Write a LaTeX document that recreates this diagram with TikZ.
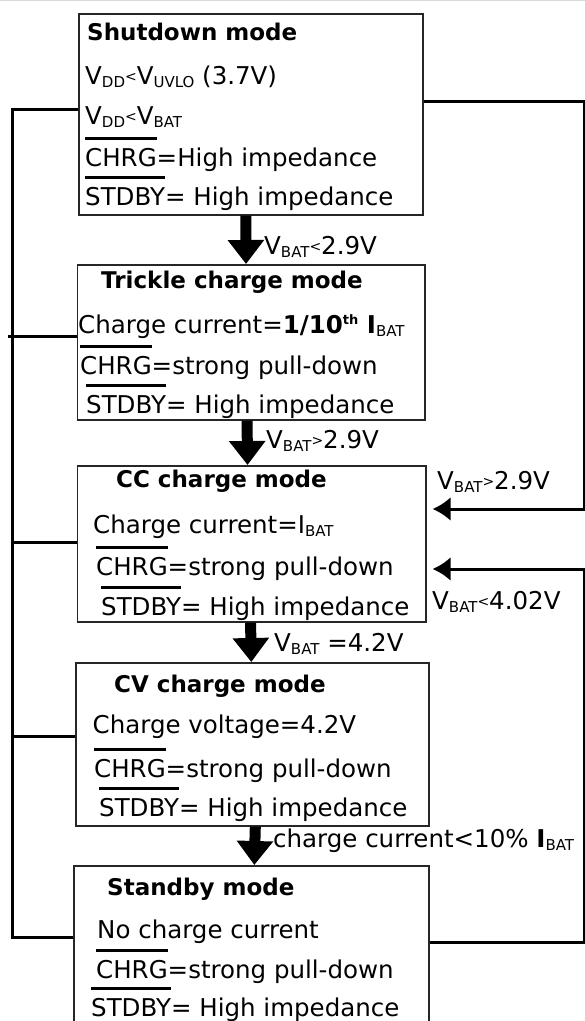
\documentclass[tikz,border=0pt]{standalone}
\usepackage{fontspec}
\setmainfont{DejaVu Sans}
\usetikzlibrary{arrows.meta}
\newcommand\vsub[1]{\raisebox{-3pt}{\fontsize{15}{15}\selectfont #1}}
\newcommand\slt{\raisebox{3pt}{\fontsize{14}{14}\selectfont <}}
\newcommand\sgt{\raisebox{3pt}{\fontsize{14}{14}\selectfont >}}
\newcommand\ovbar[1]{\setbox0\hbox{#1}\rlap{\raisebox{26.5pt}{\rule{\wd0}{2.4pt}}}\box0}
\tikzset{
  box/.style={draw=black!85, line width=1.6pt, rectangle, anchor=north west, inner sep=0pt},
  txt/.style={anchor=base west, inner sep=0pt, font=\fontsize{24.5}{28}\selectfont},
  ttl/.style={anchor=base west, inner sep=0pt, font=\fontsize{23}{27}\selectfont\bfseries},
  conn/.style={line width=3pt, black},
  sidearrow/.style={conn, -{Latex[length=18pt,width=24pt]}},
  bigarrow/.style={line width=11pt, black, -{Triangle[length=24pt,width=35pt]}}
}
\begin{document}
\begin{tikzpicture}[x=1pt,y=-1pt]
\useasboundingbox (0,0) rectangle (585,1021);
\draw[black!15, line width=1pt] (0,0.5) -- (585,0.5);
% boxes
\node[box, minimum width=344pt, minimum height=201pt] (shut) at (78,13) {};
\node[box, minimum width=347.5pt, minimum height=155pt] (trickle) at (76.5,264) {};
\node[box, minimum width=348.5pt, minimum height=156pt] (cc) at (76.5,465) {};
\node[box, minimum width=353pt, minimum height=163pt] (cv) at (75,662) {};
\node[box, minimum width=355pt, minimum height=210pt] (stby) at (73,865) {};
% shutdown texts
\node[ttl] (s0) at (87,40) {Shutdown mode};
\node[txt] (s1) at (85,84) {V\vsub{DD}\slt V\vsub{UVLO} (3.7V)};
\node[txt] (s2) at (85,124) {V\vsub{DD}\slt V\vsub{BAT}};
\node[txt] (s3) at (85,166) {\ovbar{CHRG}=High impedance};
\node[txt] (s4) at (85,205) {\ovbar{STDBY}= High impedance};
% trickle texts
\node[ttl] (t0) at (101,288) {Trickle charge mode};
\node[txt] (t1) at (78,333) {Charge current=\textbf{1/10\raisebox{9pt}{\fontsize{13}{13}\selectfont th} I}\vsub{BAT}};
\node[txt] (t2) at (80,374) {\ovbar{CHRG}=strong pull-down};
\node[txt] (t3) at (86,413) {\ovbar{STDBY}= High impedance};
% cc texts
\node[ttl] (c0) at (116,487) {CC charge mode};
\node[txt] (c1) at (93,533) {Charge current=I\vsub{BAT}};
\node[txt] (c2) at (96,575) {\ovbar{CHRG}=strong pull-down};
\node[txt] (c3) at (101,615) {\ovbar{STDBY}= High impedance};
% cv texts
\node[ttl] (v0) at (114,692) {CV charge mode};
\node[txt] (v1) at (92.5,733) {Charge voltage=4.2V};
\node[txt] (v2) at (94,777) {\ovbar{CHRG}=strong pull-down};
\node[txt] (v3) at (99,816) {\ovbar{STDBY}= High impedance};
% standby texts
\node[ttl] (b0) at (107,895) {Standby mode};
\node[txt] (b1) at (97,938) {No charge current};
\node[txt] (b2) at (96,978) {\ovbar{CHRG}=strong pull-down};
\node[txt] (b3) at (91,1016) {\ovbar{STDBY}= High impedance};
% transition arrows
\draw[bigarrow] ([xshift=-5pt]shut.south) -- ([xshift=-5pt]trickle.north);
\draw[bigarrow] ([xshift=-4pt]trickle.south) -- ([xshift=-4pt]cc.north);
\draw[bigarrow] ([xshift=-1pt]cc.south) -- ([xshift=-1pt]cv.north);
\draw[bigarrow] ([xshift=3pt]cv.south) -- ([xshift=3pt]stby.north);
\node[txt] (a1) at (264,254) {V\vsub{BAT}\slt 2.9V};
\node[txt] (a2) at (266,448) {V\vsub{BAT}\sgt 2.9V};
\node[txt] (a3) at (274,651) {V\vsub{BAT} =4.2V};
\node[txt] (a4) at (273,847) {charge current<10\% \textbf{I}\vsub{BAT}};
\node[txt] (r1) at (437,489) {V\vsub{BAT}\sgt 2.9V};
\node[txt] (r2) at (432,609) {V\vsub{BAT}\slt 4.02V};
% left bus
\coordinate (l1) at (12,109);
\coordinate (l2) at (8,336);
\coordinate (l3) at (12,542);
\coordinate (l4) at (12,736);
\coordinate (l5) at (12,937);
\draw[conn] (shut.west |- l1) -- (l1) -- (l5) -- (stby.west |- l5);
\draw[conn] (l2) -- (trickle.west |- l2);
\draw[conn] (l3) -- (cc.west |- l3);
\draw[conn] (l4) -- (cv.west |- l4);
% right returns
\coordinate (rt) at (584,101);
\coordinate (rm1) at (584,509);
\coordinate (rm2) at (584,569);
\coordinate (rb) at (584,942);
\draw[sidearrow] (shut.east |- rt) -- (rt) -- (rm1) -- ([xshift=6pt]cc.east |- rm1);
\draw[sidearrow] (stby.east |- rb) -- (rb) -- (rm2) -- ([xshift=6pt]cc.east |- rm2);
\end{tikzpicture}
\end{document}
